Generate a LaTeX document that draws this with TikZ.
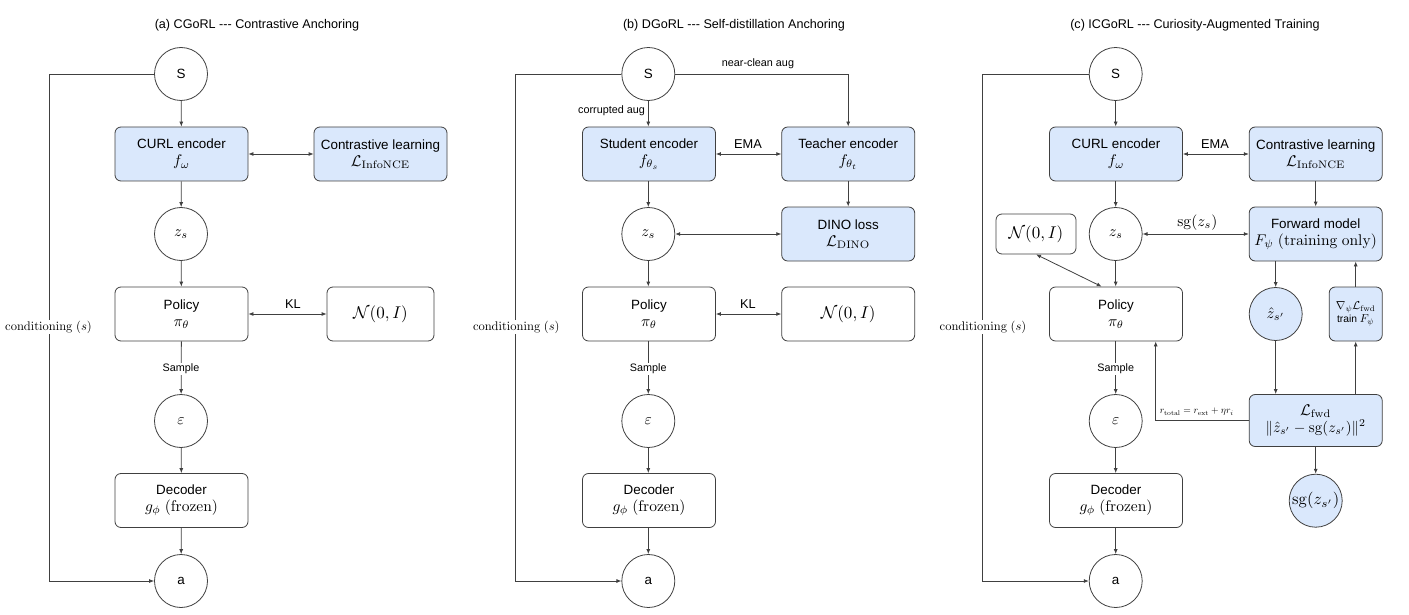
\documentclass[tikz,border=0pt]{standalone}
\usepackage{amsmath}
\usepackage{graphicx}
\usepackage[no-math]{fontspec}
\setmainfont{Liberation Sans}
\usetikzlibrary{arrows.meta}
\definecolor{lc}{RGB}{64,64,64}
\definecolor{bl}{RGB}{218,232,252}
\newcommand\MM[2][1.55]{\scalebox{#1}{\fontsize{10}{12}\selectfont$#2$}}
\newcommand\hy{{-}{-}{-}}
\tikzset{
  box/.style={draw=lc, line width=0.8pt, rounded corners=6pt, minimum width=133pt, minimum height=54pt,
    align=center, inner sep=2pt, font=\fontsize{13.4}{17}\selectfont},
  bbox/.style={box, fill=bl},
  circ/.style={circle, draw=lc, line width=0.8pt, minimum size=53pt, inner sep=0pt, fill=white,
    font=\fontsize{13.4}{17}\selectfont},
  bcirc/.style={circ, fill=bl},
  arr/.style={draw=lc, line width=0.8pt, -{Latex[length=5pt,width=4pt]}},
  darr/.style={draw=lc, line width=0.8pt, {Latex[length=5pt,width=4pt]}-{Latex[length=5pt,width=4pt]}},
  lbl/.style={inner sep=1pt, font=\fontsize{12.8}{15}\selectfont},
  slbl/.style={inner sep=1pt, font=\fontsize{10.8}{13}\selectfont},
  wlbl/.style={slbl, fill=white},
  ttl/.style={inner sep=0pt, font=\fontsize{12.6}{15}\selectfont},
  cond/.style={inner sep=1pt, fill=white},
}
\begin{document}
\begin{tikzpicture}[x=1pt, y=-1pt]
\useasboundingbox (0,0) rectangle (1409,615);

% ---------------- (a) ----------------
\node[ttl] (t1) at (257,25) {(a) CGoRL \hy{} Contrastive Anchoring};
\node[circ] (s1) at (181,74) {S};
\node[bbox] (e1) at (181.5,154) {CURL encoder\\\MM{f_\omega}};
\node[bbox] (c1) at (380.5,154) {Contrastive learning\\\MM{\mathcal{L}_{\mathrm{InfoNCE}}}};
\node[circ] (z1) at (181,234) {\MM{z_s}};
\node[box] (p1) at (181.5,314) {Policy\\\MM{\pi_\theta}};
\node[box, minimum width=107pt] (n1) at (380.5,314) {\MM[1.7]{\mathcal{N}(0,I)}};
\node[circ] (ep1) at (181,421) {\MM{\varepsilon}};
\node[box] (d1) at (181.5,500.5) {Decoder\\\MM{g_\phi\ (\mathrm{frozen})}};
\node[circ] (a1) at (181,581) {a};
\coordinate (k1) at (49,74);

\draw[arr] (s1) -- (e1);
\draw[darr] (e1) -- (c1);
\draw[arr] (e1) -- (z1);
\draw[arr] (z1) -- (p1);
\draw[darr] (p1) -- (n1);
\node[lbl] (kl1) at (293,304) {KL};
\draw[arr] (p1) -- (ep1);
\node[wlbl] (sm1) at (181,369) {Sample};
\draw[arr] (ep1) -- (d1);
\draw[arr] (d1) -- (a1);
\draw[arr] (s1.west) -- (k1) |- (a1.west);
\node[cond] (cd1) at (48.5,327) {\MM[1.25]{\mathrm{conditioning}\ (s)}};

% ---------------- (b) ----------------
\node[ttl] (t2) at (734,25) {(b) DGoRL \hy{} Self-distillation Anchoring};
\node[circ] (s2) at (648.3,74) {S};
\node[bbox] (st) at (649,154) {Student encoder\\\MM{f_{\theta_s}}};
\node[bbox] (te) at (848.2,154) {Teacher encoder\\\MM{f_{\theta_t}}};
\node[circ] (z2) at (648.3,234) {\MM{z_s}};
\node[bbox] (dn) at (848.2,234) {DINO loss\\\MM{\mathcal{L}_{\mathrm{DINO}}}};
\node[box] (p2) at (649,314) {Policy\\\MM{\pi_\theta}};
\node[box] (n2) at (848.2,314) {\MM[1.7]{\mathcal{N}(0,I)}};
\node[circ] (ep2) at (648.3,421) {\MM{\varepsilon}};
\node[box] (d2) at (649,500.5) {Decoder\\\MM{g_\phi\ (\mathrm{frozen})}};
\node[circ] (a2) at (648.3,581) {a};
\coordinate (k2) at (515.7,74);

\draw[arr] (s2) -- (s2 |- st.north);
\node[slbl, anchor=east] (ca) at (646,111) {corrupted aug};
\draw[arr] (s2.east) -| (te.north);
\node[slbl] (nc) at (758,64) {near-clean aug};
\draw[darr] (st) -- (te);
\node[lbl] (ema2) at (748,144) {EMA};
\draw[arr] (te) -- (dn);
\draw[arr] (st.south -| s2) -- (z2);
\draw[darr] (z2) -- (dn);
\draw[arr] (z2) -- (z2 |- p2.north);
\draw[darr] (p2) -- (n2);
\node[lbl] (kl2) at (748,304) {KL};
\draw[arr] (p2.south -| ep2) -- (ep2);
\node[wlbl] (sm2) at (648.3,369) {Sample};
\draw[arr] (ep2) -- (ep2 |- d2.north);
\draw[arr] (d2.south -| a2) -- (a2);
\draw[arr] (s2.west) -- (k2) |- (a2.west);
\node[cond] (cd2) at (516.3,327) {\MM[1.25]{\mathrm{conditioning}\ (s)}};

% ---------------- (c) ----------------
\node[ttl] (t3) at (1195,25) {(c) ICGoRL \hy{} Curiosity-Augmented Training};
\node[circ] (s3) at (1115.7,74) {S};
\node[bbox] (e3) at (1116,154) {CURL encoder\\\MM{f_\omega}};
\node[bbox] (c3) at (1315.7,154) {Contrastive learning\\\MM{\mathcal{L}_{\mathrm{InfoNCE}}}};
\node[circ] (z3) at (1115.7,234) {\MM{z_s}};
\node[bbox] (f3) at (1315.7,234) {Forward model\\\MM{F_\psi\ (\mathrm{training\ only})}};
\node[box, minimum width=80pt, minimum height=40pt] (n3) at (1036,234) {\MM[1.7]{\mathcal{N}(0,I)}};
\node[box] (p3) at (1116,314) {Policy\\\MM{\pi_\theta}};
\node[bcirc] (zh) at (1275.7,314) {\MM{\hat z_{s'}}};
\node[bbox, minimum width=53pt, inner sep=1pt, font=\fontsize{10.3}{13}\selectfont] (gr) at (1355.7,314)
  {\MM[1.15]{\nabla_\psi\mathcal{L}_{\mathrm{fwd}}}\\train \MM[1.15]{F_\psi}};
\node[bbox, minimum height=52pt, text width=129pt] (lf) at (1315.7,420.5)
  {\MM{\mathcal{L}_{\mathrm{fwd}}}\\\MM[1.5]{\|\hat z_{s'}-\mathrm{sg}(z_{s'})\|^2}};
\node[bcirc] (sg) at (1315.7,500.7) {\MM[1.65]{\mathrm{sg}(z_{s'})}};
\node[circ] (ep3) at (1115.7,421) {\MM{\varepsilon}};
\node[box] (d3) at (1116,500.5) {Decoder\\\MM{g_\phi\ (\mathrm{frozen})}};
\node[circ] (a3) at (1115.7,581) {a};
\coordinate (k3) at (982.7,74);
\coordinate (rt) at (1155.7,420.7);

\draw[arr] (s3) -- (s3 |- e3.north);
\draw[darr] (e3) -- (c3);
\node[lbl] (ema3) at (1215,144) {EMA};
\draw[arr] (c3) -- (f3);
\draw[arr] (e3.south -| z3) -- (z3);
\draw[darr] (z3) -- (f3);
\node[lbl] (sgl) at (1197.3,222.7) {\MM{\mathrm{sg}(z_s)}};
\draw[arr] (z3) -- (z3 |- p3.north);
\draw[darr] (n3.south) -- ([xshift=-14.3pt]p3.north);
\draw[arr] (f3.south -| zh) -- (zh);
\draw[arr] (zh) -- (zh |- lf.north);
\draw[arr] (gr |- lf.north) -- (gr.south);
\draw[arr] (gr.north) -- (gr |- f3.south);
\draw[arr] (lf) -- (sg);
\draw[arr] (lf.west |- rt) -- (rt) -- (rt |- p3.south);
\node[inner sep=1pt] (rl) at (1196.7,412) {\MM[0.97]{r_{\mathrm{total}} = r_{\mathrm{ext}} + \eta r_i}};
\draw[arr] (p3.south -| ep3) -- (ep3);
\node[wlbl] (sm3) at (1115.7,369) {Sample};
\draw[arr] (ep3) -- (ep3 |- d3.north);
\draw[arr] (d3.south -| a3) -- (a3);
\draw[arr] (s3.west) -- (k3) |- (a3.west);
\node[cond] (cd3) at (983,327) {\MM[1.25]{\mathrm{conditioning}\ (s)}};
\end{tikzpicture}
\end{document}
